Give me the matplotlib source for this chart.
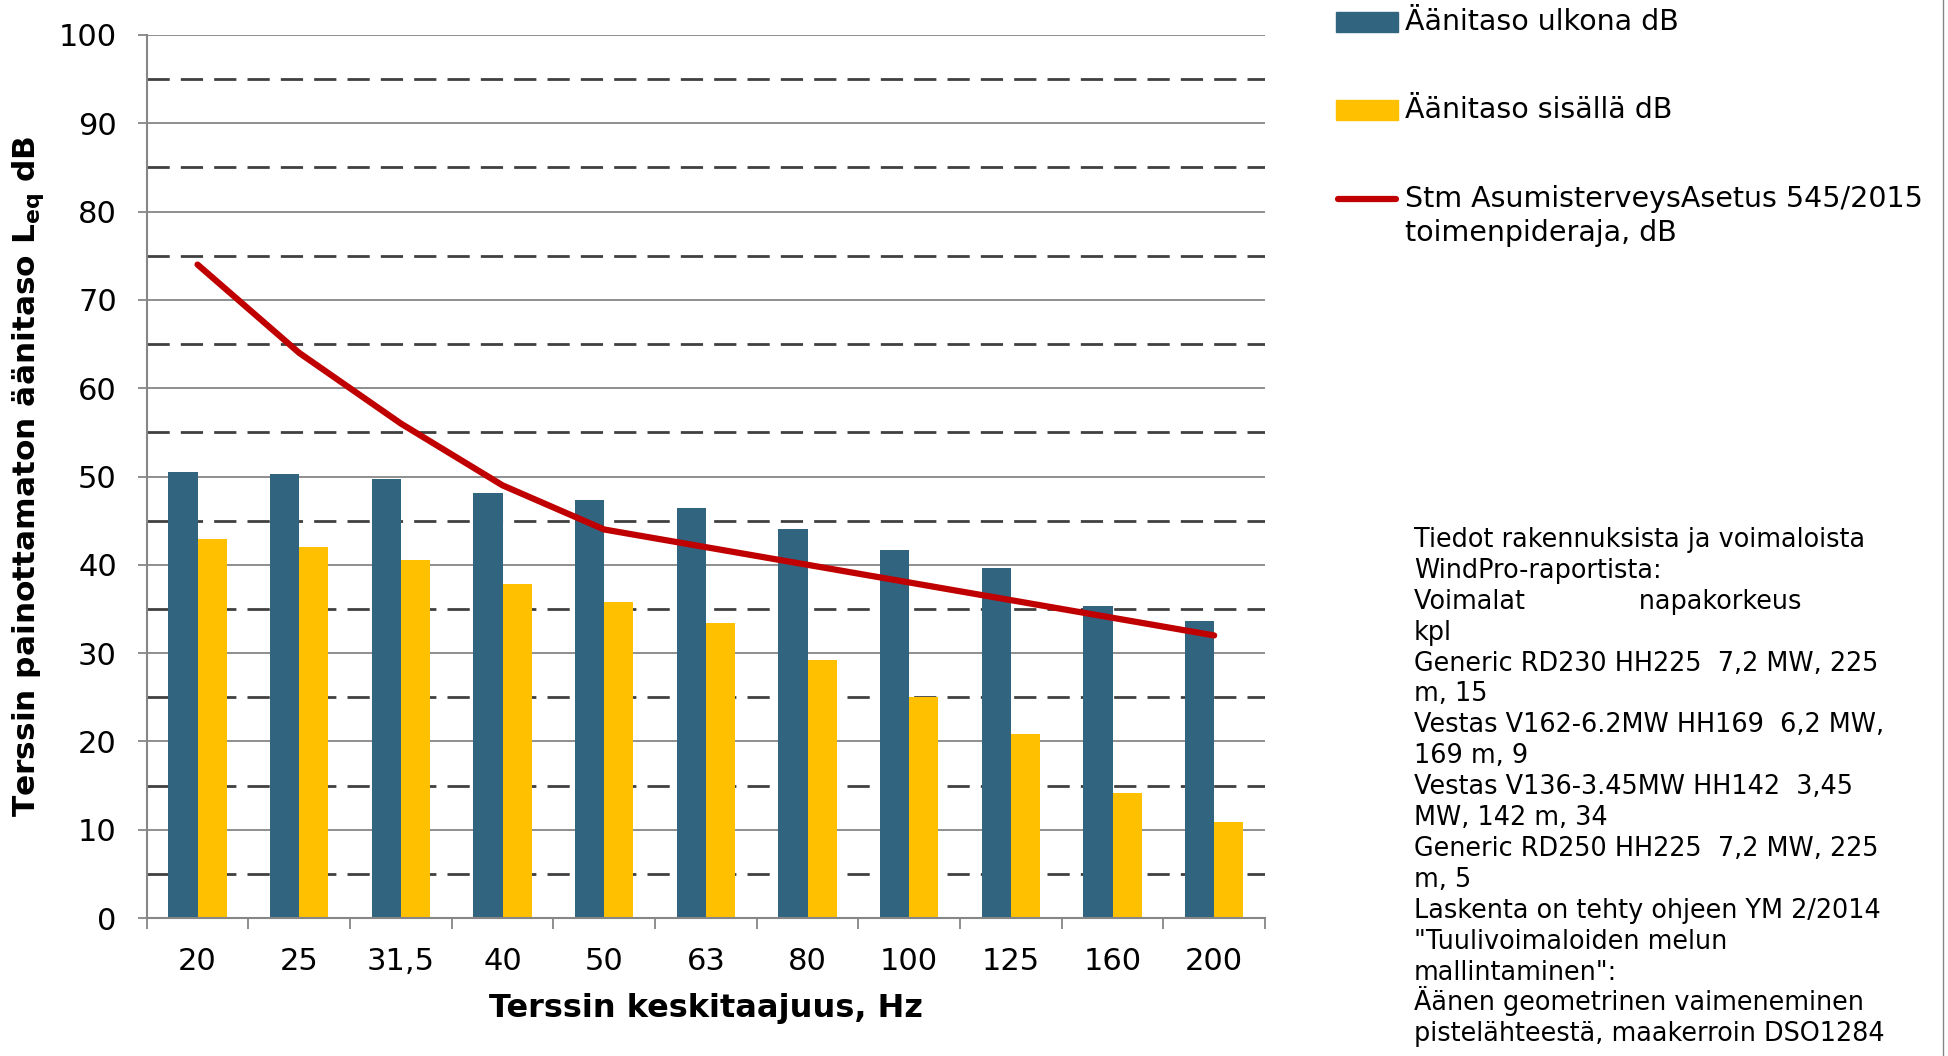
"""
Terssikaista: ulko- ja sisämelutaso sekä STM:n toimenpideraja.
"""

import matplotlib
matplotlib.use("Agg")
import matplotlib.pyplot as plt
import numpy as np
from matplotlib.lines import Line2D
from matplotlib.patches import Rectangle

W, H = 1949, 1056

freqs = ["20", "25", "31,5", "40", "50", "63", "80", "100", "125", "160", "200"]
outdoor = [50.5, 50.3, 49.7, 48.1, 47.3, 46.4, 44.0, 41.7, 39.6, 35.3, 33.6]
indoor = [42.9, 42.0, 40.5, 37.8, 35.8, 33.4, 29.2, 25.0, 20.8, 14.2, 10.9]
limit = [74, 64, 56, 49, 44, 42, 40, 38, 36, 34, 32]

series_names = ["Äänitaso ulkona dB", "Äänitaso sisällä dB",
                "Stm AsumisterveysAsetus 545/2015\ntoimenpideraja, dB"]

note_lines = [
    "Tiedot rakennuksista ja voimaloista",
    "WindPro-raportista:",
    "Voimalat              napakorkeus",
    "kpl",
    "Generic RD230 HH225  7,2 MW, 225",
    "m, 15",
    "Vestas V162-6.2MW HH169  6,2 MW,",
    "169 m, 9",
    "Vestas V136-3.45MW HH142  3,45",
    "MW, 142 m, 34",
    "Generic RD250 HH225  7,2 MW, 225",
    "m, 5",
    "Laskenta on tehty ohjeen YM 2/2014",
    "\"Tuulivoimaloiden melun",
    "mallintaminen\":",
    "Äänen geometrinen vaimeneminen",
    "pistelähteestä, maakerroin DSO1284",
]

BLUE = "#31647F"
YELLOW = "#FFC000"
RED = "#C00000"
GRAY = "#868686"


def fx(px):
    return px / W


def fy(py):
    return 1 - py / H


plt.rcParams["font.family"] = "DejaVu Sans"

fig = plt.figure(figsize=(W / 100, H / 100), dpi=100)
ax = fig.add_axes([fx(146.7), fy(918), fx(1265) - fx(146.7), fy(35) - fy(918)])

x = np.arange(len(freqs))
w = 0.287
ax.bar(x - w / 2, outdoor, w, color=BLUE, zorder=2)
ax.bar(x + w / 2, indoor, w, color=YELLOW, zorder=2)
ax.plot(x, limit, color=RED, lw=4.5, zorder=3, solid_capstyle="round")

ax.set_xlim(-0.5, len(freqs) - 0.5)
ax.set_ylim(0, 100)

# y axis: solid major grid, dashed minor grid
ax.set_yticks(np.arange(0, 101, 10))
ax.set_yticks(np.arange(5, 100, 10), minor=True)
ax.set_axisbelow(True)
ax.yaxis.grid(True, which="major", color=GRAY, lw=1.3)
ax.yaxis.grid(True, which="minor", color="#404040", lw=2, linestyle=(0, (8, 4)))
ax.tick_params(axis="y", which="major", length=6.5, width=1.3, color=GRAY,
               labelsize=22, pad=15)
ax.tick_params(axis="y", which="minor", length=0)

# x axis: labels at centers, tick marks between categories
ax.set_xticks(x)
ax.set_xticklabels(freqs)
ax.set_xticks(np.arange(-0.5, len(freqs), 1), minor=True)
ax.tick_params(axis="x", which="major", length=0, labelsize=22, pad=21)
ax.tick_params(axis="x", which="minor", length=8, width=1.3, color=GRAY)

for side in ["top", "right"]:
    ax.spines[side].set_visible(False)
for side in ["left", "bottom"]:
    ax.spines[side].set_color(GRAY)
    ax.spines[side].set_linewidth(1.5)

fig.text(fx(28), fy(476), "Terssin painottamaton äänitaso $\\mathbf{L_{eq}}$ dB",
         rotation=90, ha="center", va="center", fontsize=22.5, fontweight="bold")
fig.text(fx(706), fy(1009), "Terssin keskitaajuus, Hz", ha="center", va="center",
         fontsize=23, fontweight="bold")

# legend drawn by hand so the red line sits on the first text line
fig.add_artist(Rectangle((fx(1336), fy(32)), fx(1398) - fx(1336), fy(12) - fy(32),
                         transform=fig.transFigure, color=BLUE))
fig.add_artist(Rectangle((fx(1336), fy(120)), fx(1398) - fx(1336), fy(100) - fy(120),
                         transform=fig.transFigure, color=YELLOW))
fig.add_artist(Line2D([fx(1338), fx(1396)], [fy(199), fy(199)], transform=fig.transFigure,
                      color=RED, lw=4.5, solid_capstyle="round"))
legend_rows = [(series_names[0], 22), (series_names[1], 110)]
red_lines = series_names[2].split("\n")
legend_rows += [(red_lines[0], 199), (red_lines[1], 233)]
for label, ypx in legend_rows:
    fig.text(fx(1405), fy(ypx + 8), label, va="baseline", fontsize=20.5)

# note text, one line at a time with fixed pitch
for i, line in enumerate(note_lines):
    fig.text(fx(1414), fy(547 + i * 30.9), line, va="baseline", fontsize=18.4)

# chart area border on the right edge
fig.add_artist(Line2D([fx(1943), fx(1943)], [0, 1], transform=fig.transFigure,
                      color=GRAY, lw=1))

fig.savefig("out.png", dpi=100)
